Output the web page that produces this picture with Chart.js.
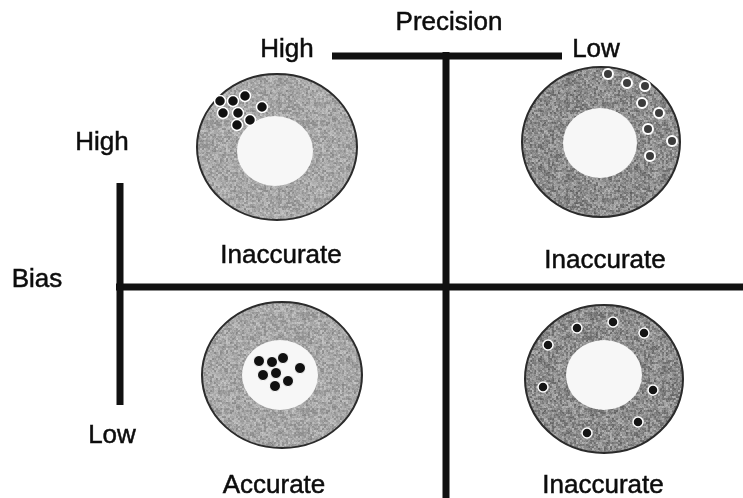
<!DOCTYPE html>
<html>
<head>
<meta charset="utf-8">
<script src="https://cdn.jsdelivr.net/npm/chart.js@4.4.1/dist/chart.umd.min.js"></script>
<style>
  html, body { margin: 0; padding: 0; background: #fff; }
  #wrap { width: 743px; height: 498px; }
</style>
</head>
<body>
<div id="wrap"><canvas id="chart" width="743" height="498"></canvas></div>
<script>
// Four targets: high bias/high precision, high bias/low precision, low bias/high precision, low bias/low precision
const targetX = [277, 601, 282, 604];
const targetY = [147, 142, 375, 379];
const ringRx = [80, 79, 80, 79];
const ringRy = [73, 75, 73, 74];
const holeX = [275, 600, 280, 604];
const holeY = [151, 143, 375, 375];
const holeRx = [38, 37, 38, 38];
const holeRy = [35, 35, 35, 35];

// Shots on each target
const shotsTLx = [220, 233, 245, 223, 238, 262, 250, 237];
const shotsTLy = [101, 101, 96, 113, 113, 107, 120, 125];
const shotsTRx = [608, 627, 645, 642, 659, 648, 672, 650];
const shotsTRy = [74, 83, 86, 103, 113, 129, 141, 156];
const shotsBLx = [259, 272, 283, 300, 263, 276, 288, 275];
const shotsBLy = [361, 362, 358, 368, 375, 373, 381, 386];
const shotsBRx = [577, 613, 644, 548, 543, 653, 638, 587];
const shotsBRy = [328, 322, 333, 345, 387, 390, 422, 433];

// Axis bars
const precisionBarX = [332, 562];
const precisionBarY = [56, 56];
const splitVertX = [446, 446];
const splitVertY = [52, 498];
const biasBarX = [120, 120];
const biasBarY = [183, 405];
const splitHorzX = [116, 743];
const splitHorzY = [287, 287];

// Labels
const labelTexts = ['Precision', 'High', 'Low', 'High', 'Bias', 'Low', 'Inaccurate', 'Inaccurate', 'Accurate', 'Inaccurate'];
const labelX = [449, 287, 596, 102, 37, 112, 281, 605, 274, 603];
const labelY = [30, 57, 57, 150, 287, 443, 263, 268, 493, 493];

const toPoints = (xs, ys) => xs.map((x, i) => ({ x: x, y: ys[i] }));

// grainy grey fill like a photocopied target (2px grain)
function makeTexture(base, spread) {
    const size = 96;
    const c = document.createElement('canvas');
    c.width = size; c.height = size;
    const g = c.getContext('2d');
    const img = g.createImageData(size, size);
    for (let j = 0; j < size; j++) {
        for (let i = 0; i < size; i++) {
            const a = Math.floor(i / 2), b = Math.floor(j / 2);
            const h = Math.sin(a * 12.9898 + b * 78.233) * 43758.5453;
            const h2 = Math.sin(i * 39.346 + j * 11.135) * 24634.6345;
            const n = 0.7 * (h - Math.floor(h)) + 0.3 * (h2 - Math.floor(h2));
            const v = Math.max(0, Math.min(255, Math.round(base + (n - 0.5) * spread)));
            const k = (j * size + i) * 4;
            img.data[k] = v; img.data[k + 1] = v; img.data[k + 2] = v; img.data[k + 3] = 255;
        }
    }
    g.putImageData(img, 0, 0);
    return c;
}

const targetPlugin = {
    id: 'targets',
    beforeDatasetsDraw(chart) {
        const { ctx, scales: { x, y } } = chart;
        const light = ctx.createPattern(makeTexture(166, 70), 'repeat');
        const dark = ctx.createPattern(makeTexture(140, 95), 'repeat');
        targetX.forEach((tx, i) => {
            const cx = x.getPixelForValue(tx);
            const cy = y.getPixelForValue(targetY[i]);
            const rx = x.getPixelForValue(tx + ringRx[i]) - cx;
            const ry = y.getPixelForValue(targetY[i] + ringRy[i]) - cy;
            ctx.save();
            ctx.beginPath();
            ctx.ellipse(cx, cy, rx, ry, 0, 0, Math.PI * 2);
            ctx.fillStyle = (i % 2 === 1) ? dark : light;
            ctx.fill();
            ctx.lineWidth = 2;
            ctx.strokeStyle = '#2b2b2b';
            ctx.stroke();

            const hx = x.getPixelForValue(holeX[i]);
            const hy = y.getPixelForValue(holeY[i]);
            const hrx = x.getPixelForValue(holeX[i] + holeRx[i]) - hx;
            const hry = y.getPixelForValue(holeY[i] + holeRy[i]) - hy;
            ctx.beginPath();
            ctx.ellipse(hx, hy, hrx, hry, 0, 0, Math.PI * 2);
            ctx.fillStyle = '#f7f7f7';
            ctx.fill();
            ctx.restore();
        });
    }
};

const labelPlugin = {
    id: 'labels',
    afterDraw(chart) {
        const { ctx, scales: { x, y } } = chart;
        ctx.save();
        ctx.font = '26px "Liberation Sans", Arial, sans-serif';
        ctx.fillStyle = '#0d0d0d';
        ctx.strokeStyle = '#0d0d0d';
        ctx.lineWidth = 0.5;
        ctx.textAlign = 'center';
        ctx.textBaseline = 'alphabetic';
        labelTexts.forEach((t, i) => {
            const px = x.getPixelForValue(labelX[i]);
            const py = y.getPixelForValue(labelY[i]);
            ctx.fillText(t, px, py);
            ctx.strokeText(t, px, py);
        });
        ctx.restore();
    }
};

function barSet(xs, ys) {
    return {
        type: 'line',
        data: toPoints(xs, ys),
        borderColor: '#111',
        borderWidth: 7,
        borderCapStyle: 'butt',
        pointRadius: 0,
        fill: false,
        clip: false
    };
}

function shotSet(xs, ys, color, radius, ring) {
    return {
        type: 'scatter',
        data: toPoints(xs, ys),
        pointRadius: radius,
        pointBackgroundColor: color,
        pointBorderColor: '#ffffff',
        pointBorderWidth: ring,
        clip: false
    };
}

new Chart(document.getElementById('chart'), {
    type: 'scatter',
    data: {
        datasets: [
            barSet(precisionBarX, precisionBarY),
            barSet(splitVertX, splitVertY),
            barSet(biasBarX, biasBarY),
            barSet(splitHorzX, splitHorzY),
            shotSet(shotsTLx, shotsTLy, '#111', 5.5, 1.5),
            shotSet(shotsTRx, shotsTRy, '#3c3c3c', 5, 2),
            shotSet(shotsBLx, shotsBLy, '#111', 5.5, 1),
            shotSet(shotsBRx, shotsBRy, '#151515', 5, 1.5)
        ]
    },
    options: {
        responsive: false,
        animation: false,
        devicePixelRatio: 1,
        events: [],
        layout: { padding: 0, autoPadding: false },
        plugins: {
            legend: { display: false },
            tooltip: { enabled: false }
        },
        scales: {
            x: { type: 'linear', min: 0, max: 743, display: false },
            y: { type: 'linear', min: 0, max: 498, reverse: true, display: false }
        }
    },
    plugins: [targetPlugin, labelPlugin]
});
</script>
</body>
</html>
